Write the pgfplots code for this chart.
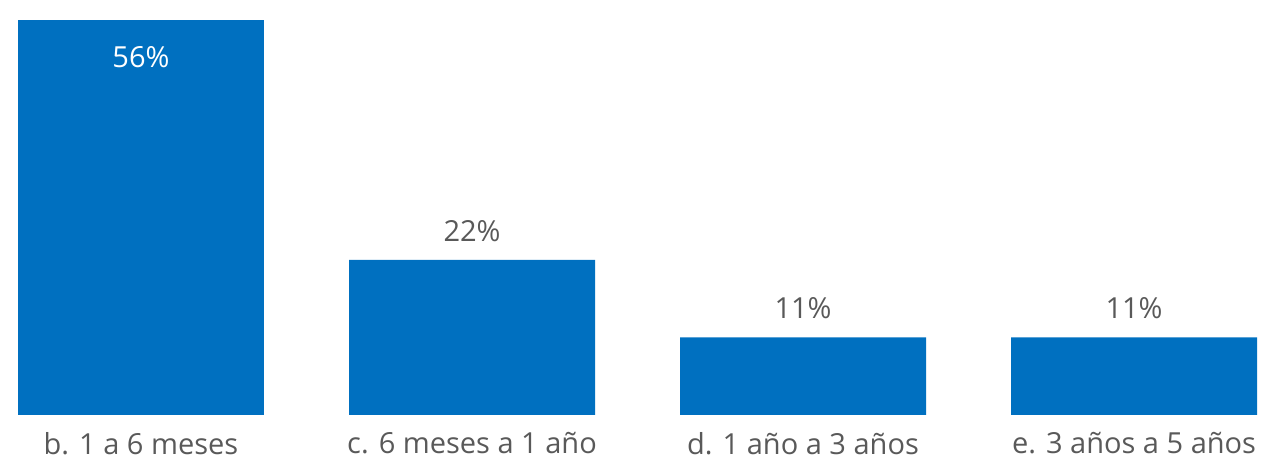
\documentclass[border=0pt]{standalone}
\usepackage{pgfplots}
\pgfplotsset{compat=1.18}
\usepackage{fontspec}
\setmainfont{Open Sans}
\definecolor{barblue}{HTML}{0070C0}
\definecolor{labelgray}{HTML}{595959}
\begin{document}
\begin{tikzpicture}
\path[use as bounding box] (0,-27pt) rectangle (640pt,207.5pt);
\begin{axis}[
    at={(0,0)}, anchor=south west,
    scale only axis, width=640pt, height=207.5pt,
    xmin=-0.426, xmax=3.441, ymin=0, ymax=58.9,
    axis x line*=bottom, axis y line=none,
    x axis line style={draw=none},
    xtick={0,1,2,3}, ytick=\empty,
    xticklabels={b. 1 a 6 meses, c. 6 meses a 1 año, d. 1 año a 3 años, e. 3 años a 5 años},
    major tick length=0pt,
    xticklabel style={font=\fontsize{14.5}{17}\selectfont, text=labelgray, yshift=-5pt},
    ybar, bar width=123pt, bar shift=0pt,
    /pgf/number format/assume math mode=true,
    clip=false,
]
\addplot[fill=barblue, draw=none,
    nodes near coords={\pgfmathprintnumber{\pgfplotspointmeta}\%},
    every node near coord/.append style={anchor=center, yshift=-18.5pt, text=white, font=\fontsize{14.5}{17}\selectfont}]
    coordinates {(0,56)};
\addplot[fill=barblue, draw=none,
    nodes near coords={\pgfmathprintnumber{\pgfplotspointmeta}\%},
    every node near coord/.append style={anchor=center, yshift=14.5pt, text=labelgray, font=\fontsize{14.5}{17}\selectfont}]
    coordinates {(1,22) (2,11) (3,11)};
\end{axis}
\end{tikzpicture}
\end{document}
